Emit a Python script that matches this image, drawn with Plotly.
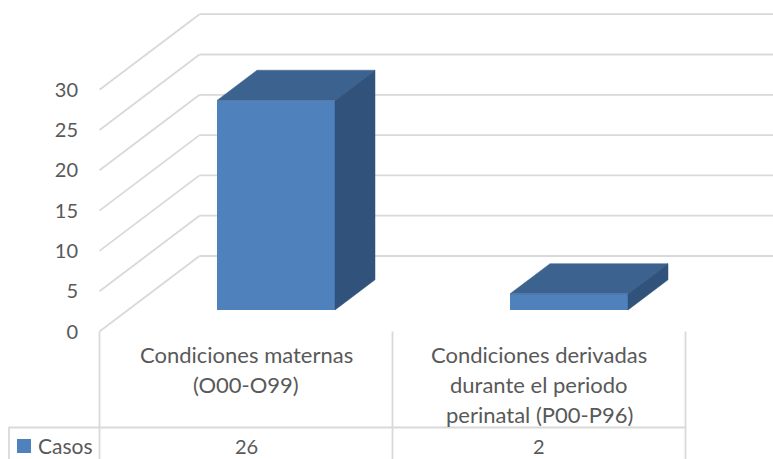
import plotly.graph_objects as go

series_name = "Casos"
categories = [["Condiciones maternas", "(O00-O99)"],
              ["Condiciones derivadas", "durante el periodo", "perinatal (P00-P96)"]]
values = [26, 2]
y_ticks = [0, 5, 10, 15, 20, 25, 30]

W, H = 773, 459
FONT = "Lato"
TXT = "#595959"
GRID = "#D9D9D9"
FRONT, TOP, SIDE = "#4F81BD", "#3C6390", "#31527A"

# axis scale: pixel = origin + scale * value
X0, XS = 246.0, 293.0
Y0, YS = 331.5, 8.06
x_range = [(0 - X0) / XS, (W - X0) / XS]
y_range = [(Y0 - H) / YS, Y0 / YS]

FLOOR_LEFT = -0.5
DEPTH_X = 100 / XS      # full depth of the floor, x units
DEPTH_Y = 75.5 / YS     # full depth of the floor, value units
BAR_W = 118 / XS
BAR_SHIFT = 1.5 / XS
D_FRONT, D_BACK = 0.285, 0.685


def px(p):
    return p / W


def py(p):
    return 1 - p / H


shapes = []
# walls / gridlines
for t in y_ticks:
    bx, by = FLOOR_LEFT + DEPTH_X, t + DEPTH_Y
    shapes.append(dict(type="line", xref="x", yref="y", x0=FLOOR_LEFT, y0=t, x1=bx, y1=by,
                       line=dict(color=GRID, width=1.8), layer="below"))
    shapes.append(dict(type="line", xref="x", yref="y", x0=bx, y0=by, x1=x_range[1], y1=by,
                       line=dict(color=GRID, width=1.8), layer="below"))

# data table rules
table_bottom = y_range[0]
table_rule = (Y0 - 427.5) / YS
for xv in [FLOOR_LEFT, 0.5, 1.5]:
    shapes.append(dict(type="line", xref="x", yref="y", x0=xv, x1=xv, y0=0, y1=table_bottom,
                       line=dict(color=GRID, width=1.8), layer="below"))
shapes.append(dict(type="line", xref="paper", yref="y", x0=px(9), x1=px(9), y0=table_rule, y1=table_bottom,
                   line=dict(color=GRID, width=1.8), layer="below"))
shapes.append(dict(type="line", xref="paper", yref="y", x0=px(8.5), x1=(1.5 - x_range[0]) / (x_range[1] - x_range[0]),
                   y0=table_rule, y1=table_rule, line=dict(color=GRID, width=1.8), layer="below"))
# legend key
shapes.append(dict(type="rect", xref="paper", yref="paper", x0=px(17), x1=px(31), y0=py(453), y1=py(439),
                   fillcolor=FRONT, line=dict(width=0)))

fig = go.Figure()
xs = list(range(len(values)))
base = D_FRONT * DEPTH_Y
fx = [x + D_FRONT * DEPTH_X + BAR_SHIFT for x in xs]
fig.add_trace(go.Bar(x=fx, y=values, base=[base] * len(values), width=BAR_W, name=series_name,
                     marker=dict(color=FRONT, line=dict(width=0)), hoverinfo="x+y", showlegend=False))

dd_x = (D_BACK - D_FRONT) * DEPTH_X
dd_y = (D_BACK - D_FRONT) * DEPTH_Y
for cx, v in zip(fx, values):
    l, r = cx - BAR_W / 2, cx + BAR_W / 2
    low, high = base, base + v
    fig.add_trace(go.Scatter(x=[l, r, r + dd_x, l + dd_x, l], y=[high, high, high + dd_y, high + dd_y, high],
                             mode="lines", fill="toself", fillcolor=TOP, line=dict(color=TOP, width=0.5),
                             hoverinfo="skip", showlegend=False))
    fig.add_trace(go.Scatter(x=[r, r + dd_x, r + dd_x, r, r], y=[low, low + dd_y, high + dd_y, high, low],
                             mode="lines", fill="toself", fillcolor=SIDE, line=dict(color=SIDE, width=0.5),
                             hoverinfo="skip", showlegend=False))

ann = []
LINE_PX = 30.2
FS_NUM = 20
FS_TXT = 22
for i, (lines, v) in enumerate(zip(categories, values)):
    for j, s in enumerate(lines):
        ann.append(dict(x=i, y=py(354 + j * LINE_PX), xref="x", yref="paper", text=s, showarrow=False,
                        xanchor="center", yanchor="middle", font=dict(family=FONT, size=FS_TXT, color=TXT)))
    ann.append(dict(x=i, y=py(446), xref="x", yref="paper", text=str(v), showarrow=False,
                    xanchor="center", yanchor="middle", font=dict(family=FONT, size=FS_NUM, color=TXT)))
ann.append(dict(x=px(35.5), y=py(445.5), xref="paper", yref="paper", text=series_name, showarrow=False,
                xanchor="left", yanchor="middle", font=dict(family=FONT, size=21, color=TXT)))

fig.update_layout(
    width=W, height=H, margin=dict(l=0, r=0, t=0, b=0), autosize=False,
    paper_bgcolor="white", plot_bgcolor="rgba(0,0,0,0)", showlegend=False,
    shapes=shapes, annotations=ann,
    xaxis=dict(range=x_range, visible=False, fixedrange=True),
    yaxis=dict(range=y_range, anchor="free", position=99 / W, tickmode="array", tickvals=y_ticks,
               ticks="", showgrid=False, zeroline=False, showline=False, ticklabelstandoff=21,
               tickfont=dict(family=FONT, size=FS_NUM, color=TXT), fixedrange=True),
)
fig.write_html("out.html", config={"displayModeBar": False},
               post_script="document.body.style.margin='0';document.documentElement.style.overflow='hidden';")
